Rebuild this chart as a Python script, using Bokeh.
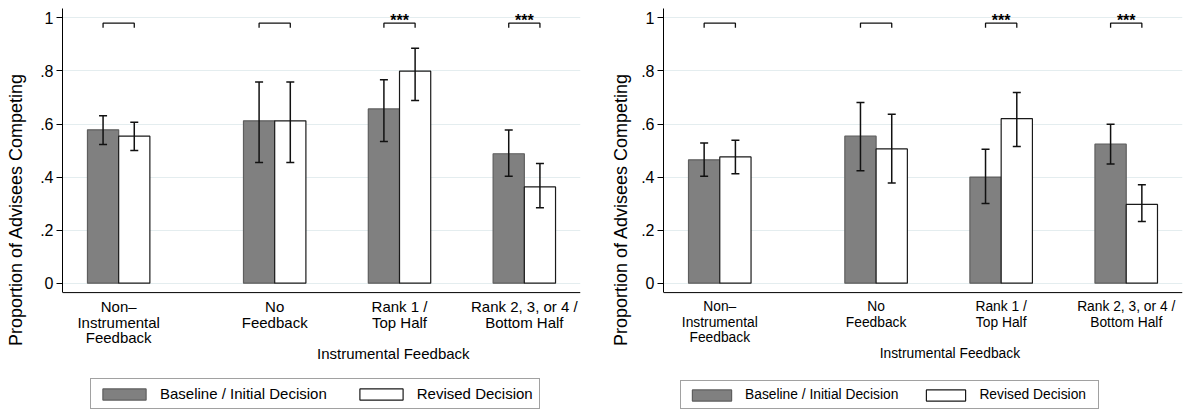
from bokeh.plotting import figure
from bokeh.models import (ColumnDataSource, Whisker, TeeHead, FixedTicker, Label,
                          Legend, LegendItem, Range1d, Span)
from bokeh.layouts import row
from bokeh.embed import file_html
from bokeh.resources import INLINE
from bokeh.core.properties import value

# ---------------- data ----------------
tick_labels = ["Non\u2013\nInstrumental\nFeedback", "No\nFeedback",
               "Rank 1 /\nTop Half", "Rank 2, 3, or 4 /\nBottom Half"]
y_ticks = [0, 0.2, 0.4, 0.6, 0.8, 1.0]
y_tick_labels = ["0", ".2", ".4", ".6", ".8", "1"]
stars = ["", "", "***", "***"]
series_names = ["Baseline / Initial Decision", "Revised Decision"]
y_title = "Proportion of Advisees Competing"
group_title = "Instrumental Feedback"

left_base = [0.578, 0.612, 0.657, 0.488]
left_base_lo = [0.523, 0.455, 0.534, 0.403]
left_base_hi = [0.631, 0.758, 0.767, 0.577]
left_rev = [0.554, 0.612, 0.799, 0.363]
left_rev_lo = [0.500, 0.455, 0.689, 0.284]
left_rev_hi = [0.607, 0.758, 0.886, 0.451]

right_base = [0.465, 0.554, 0.400, 0.524]
right_base_lo = [0.403, 0.424, 0.300, 0.449]
right_base_hi = [0.528, 0.681, 0.505, 0.599]
right_rev = [0.476, 0.506, 0.620, 0.297]
right_rev_lo = [0.413, 0.378, 0.515, 0.233]
right_rev_hi = [0.539, 0.637, 0.719, 0.371]

# ---------------- layout constants ----------------
GROUP_POS = [0.0, 1.25, 2.25, 3.25]
BAR_W = 0.25
FONT = "Liberation Sans"
GRAY = "#808080"
INK = "#111111"
Y_TOP = 1.0354          # frame top
Y_BOT = -0.4798         # frame bottom (canvas bottom)
X_AXIS_Y = -0.0354      # where the x axis line sits
LBL_Y0 = -0.0867        # baseline of first category-label line
LBL_STEP = 0.0596       # line spacing of category labels
TITLE_Y = -0.2645       # baseline of group title


def make_panel(base, base_lo, base_hi, rev, rev_lo, rev_hi, cfg):
    p = figure(width=cfg["width"], height=410, output_backend="svg",
               toolbar_location=None, x_range=Range1d(-0.45, 3.70),
               y_range=Range1d(Y_BOT, Y_TOP), x_axis_location=None,
               min_border_left=cfg["bl"], min_border_right=cfg["br"],
               min_border_top=8, min_border_bottom=0)
    p.outline_line_color = None
    p.background_fill_color = "white"
    p.border_fill_color = "white"

    # grid
    p.xgrid.grid_line_color = None
    p.ygrid.ticker = FixedTicker(ticks=y_ticks)
    p.ygrid.grid_line_color = "#e4edef"
    p.ygrid.grid_line_width = 1

    xb = [g - BAR_W / 2 for g in GROUP_POS]
    xr = [g + BAR_W / 2 for g in GROUP_POS]
    sb = ColumnDataSource(dict(x=xb, top=base, lo=base_lo, hi=base_hi))
    sr = ColumnDataSource(dict(x=xr, top=rev, lo=rev_lo, hi=rev_hi))

    rb = p.vbar(x="x", top="top", bottom=0, width=BAR_W, source=sb,
                fill_color=GRAY, line_color="#5e5e5e", line_width=1.2)
    rr = p.vbar(x="x", top="top", bottom=0, width=BAR_W, source=sr,
                fill_color="white", line_color="#1a1a1a", line_width=1.2)

    for s in (sb, sr):
        w = Whisker(base="x", lower="lo", upper="hi", source=s, level="overlay",
                    line_color=INK, line_width=1.5,
                    upper_head=TeeHead(size=8, line_color=INK, line_width=1.5),
                    lower_head=TeeHead(size=8, line_color=INK, line_width=1.5))
        p.add_layout(w)

    # significance brackets
    bx = [[a, a, b, b] for a, b in zip(xb, xr)]
    by = [[0.963, 0.980, 0.980, 0.963] for _ in GROUP_POS]
    p.multi_line(xs=bx, ys=by, line_color=INK, line_width=1.3)
    p.text(x=GROUP_POS, y=[0.99] * len(GROUP_POS), text=stars,
           text_font=value(FONT), text_font_size="16px", text_font_style="bold",
           text_align="center", text_baseline="alphabetic", text_color="black")

    # y axis
    ya = p.yaxis[0]
    ya.bounds = (X_AXIS_Y, Y_TOP)
    ya.ticker = FixedTicker(ticks=y_ticks)
    ya.major_label_overrides = {t: l for t, l in zip(y_ticks, y_tick_labels)}
    ya.major_label_text_font = FONT
    ya.major_label_text_font_size = "16px"
    ya.major_label_text_color = "black"
    ya.major_label_standoff = 3
    ya.major_tick_out = 6
    ya.major_tick_in = 0
    ya.minor_tick_line_color = None
    ya.axis_line_color = "black"
    ya.major_tick_line_color = "black"
    ya.axis_label = y_title
    ya.axis_label_text_font = FONT
    ya.axis_label_text_font_size = "18px"
    ya.axis_label_text_font_style = "normal"
    ya.axis_label_text_color = "black"
    ya.axis_label_standoff = cfg["ylab_standoff"]

    # x axis line
    p.add_layout(Span(location=X_AXIS_Y, dimension="width",
                      line_color="black", line_width=1))

    # category labels
    for g, lab in zip(GROUP_POS, tick_labels):
        for k, line in enumerate(lab.split("\n")):
            p.add_layout(Label(x=g, y=LBL_Y0 - k * LBL_STEP, text=line,
                               text_font=FONT, text_font_size=cfg["xfs"],
                               text_align="center", text_baseline="alphabetic",
                               text_color="black"))

    p.add_layout(Label(x=cfg["title_x"], y=TITLE_Y, text=group_title,
                       text_font=FONT, text_font_size=cfg["xfs"],
                       text_align="center", text_baseline="alphabetic",
                       text_color="black"))

    leg = Legend(items=[LegendItem(label=series_names[0], renderers=[rb]),
                        LegendItem(label=series_names[1], renderers=[rr])],
                 orientation="horizontal", location=cfg["leg_loc"],
                 glyph_width=cfg["gw"], glyph_height=14, label_standoff=9,
                 spacing=cfg["spacing"], padding=6, margin=0,
                 label_height=15, label_width=cfg["lw"],
                 label_text_font=FONT, label_text_font_size=cfg["xfs"],
                 label_text_color="black",
                 border_line_color="#444444", border_line_width=1,
                 background_fill_color="white", background_fill_alpha=1)
    p.add_layout(leg)
    return p


left = make_panel(left_base, left_base_lo, left_base_hi,
                  left_rev, left_rev_lo, left_rev_hi,
                  dict(width=590, bl=62, br=10, ylab_standoff=11, xfs="15px",
                       title_x=2.2, leg_loc=(28, 1), gw=54, spacing=27, lw=113))
right = make_panel(right_base, right_base_lo, right_base_hi,
                   right_rev, right_rev_lo, right_rev_hi,
                   dict(width=596, bl=73, br=4, ylab_standoff=7, xfs="13.8px",
                        title_x=1.84, leg_loc=(17, 1), gw=49, spacing=23, lw=113))

layout = row(left, right, spacing=0)
open("out.html", "w").write(file_html(layout, INLINE))
